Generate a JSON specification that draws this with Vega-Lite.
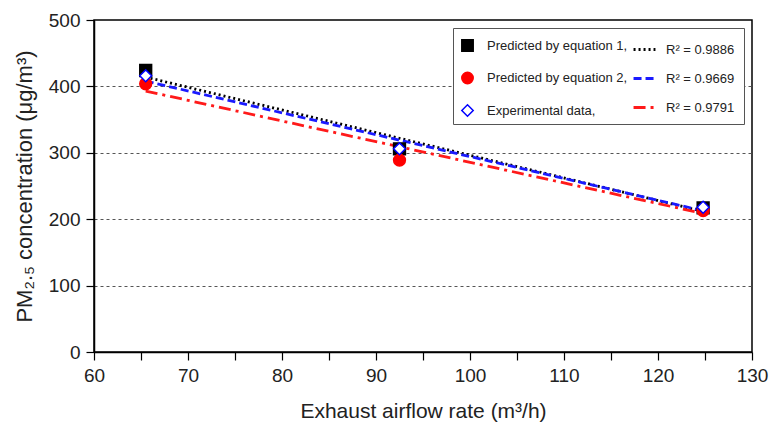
{
  "$schema": "https://vega.github.io/schema/vega-lite/v6.json",
  "width": 658,
  "height": 332,
  "autosize": "none",
  "padding": {"left": 94, "top": 20, "right": 17, "bottom": 71},
  "background": "white",
  "config": {
    "font": "Liberation Sans",
    "view": {"stroke": "black", "strokeWidth": 1.5},
    "axis": {
      "domainColor": "black",
      "domainWidth": 1.5,
      "tickColor": "black",
      "tickSize": 8,
      "tickWidth": 1.2,
      "labelColor": "#222",
      "titleColor": "#222",
      "labelFontSize": 19,
      "titleFontSize": 21,
      "titleFontWeight": "normal",
      "labelOverlap": false
    }
  },
  "datasets": {
    "points": [
      {"airflow": 65.5, "pm": 424, "series": "Predicted by equation 1,"},
      {"airflow": 92.5, "pm": 306, "series": "Predicted by equation 1,"},
      {"airflow": 124.8, "pm": 217, "series": "Predicted by equation 1,"},
      {"airflow": 65.5, "pm": 404, "series": "Predicted by equation 2,"},
      {"airflow": 92.5, "pm": 289, "series": "Predicted by equation 2,"},
      {"airflow": 124.8, "pm": 213, "series": "Predicted by equation 2,"},
      {"airflow": 65.5, "pm": 416, "series": "Experimental data,"},
      {"airflow": 92.5, "pm": 306, "series": "Experimental data,"},
      {"airflow": 124.8, "pm": 218, "series": "Experimental data,"}
    ],
    "fits": [
      {"airflow": 65.5, "pm": 414, "fit": "R² = 0.9886"},
      {"airflow": 125, "pm": 211, "fit": "R² = 0.9886"},
      {"airflow": 65.5, "pm": 408, "fit": "R² = 0.9669"},
      {"airflow": 125, "pm": 212, "fit": "R² = 0.9669"},
      {"airflow": 65.5, "pm": 393, "fit": "R² = 0.9791"},
      {"airflow": 125, "pm": 208, "fit": "R² = 0.9791"}
    ]
  },
  "layer": [
    {
      "data": {"name": "fits"},
      "mark": {"type": "line", "strokeWidth": 2.8},
      "encoding": {
        "x": {
          "field": "airflow", "type": "quantitative",
          "scale": {"domain": [60, 130], "nice": false, "zero": false},
          "axis": {
            "values": [60, 65, 70, 75, 80, 85, 90, 95, 100, 105, 110, 115, 120, 125, 130],
            "labelExpr": "datum.value % 10 === 0 ? datum.label : ''",
            "grid": false,
            "labelPadding": 6,
            "labelFlush": false,
            "title": "Exhaust airflow rate (m³/h)",
            "titlePadding": 15
          }
        },
        "y": {
          "field": "pm", "type": "quantitative",
          "scale": {"domain": [0, 500], "nice": false},
          "axis": {
            "values": [0, 50, 100, 150, 200, 250, 300, 350, 400, 450, 500],
            "labelExpr": "datum.value % 100 === 0 ? datum.label : ''",
            "grid": true,
            "gridColor": "#555",
            "gridDash": [3, 3],
            "gridWidth": 1,
            "gridOpacity": {"condition": {"test": "datum.value % 100 === 0 && datum.value > 0 && datum.value < 500", "value": 1}, "value": 0},
            "labelPadding": 6,
            "title": "PM₂.₅ concentration (μg/m³)",
            "titleFontSize": 22,
            "titlePadding": 12
          }
        },
        "color": {
          "field": "fit", "type": "nominal",
          "scale": {"domain": ["R² = 0.9886", "R² = 0.9669", "R² = 0.9791"], "range": ["black", "#1a1aff", "#ff1a1a"]},
          "legend": {
            "orient": "none",
            "legendX": 359,
            "legendY": 8,
            "title": null,
            "zindex": 0,
            "strokeColor": "#555",
            "fillColor": "white",
            "padding": 9,
            "symbolType": "stroke",
            "symbolSize": 480,
            "symbolStrokeWidth": 3,
            "symbolOffset": 170,
            "labelOffset": 9,
            "labelFontSize": 13,
            "labelColor": "#222",
            "rowPadding": 9
          }
        },
        "strokeDash": {
          "field": "fit", "type": "nominal",
          "scale": {"domain": ["R² = 0.9886", "R² = 0.9669", "R² = 0.9791"], "range": [[2, 3], [8, 4], [12, 5, 3, 5]]}
        }
      }
    },
    {
      "data": {"name": "points"},
      "mark": {"type": "point", "size": 140, "strokeWidth": 1.5, "opacity": 1},
      "encoding": {
        "x": {"field": "airflow", "type": "quantitative"},
        "y": {"field": "pm", "type": "quantitative"},
        "shape": {
          "field": "series", "type": "nominal",
          "scale": {"domain": ["Predicted by equation 1,", "Predicted by equation 2,", "Experimental data,"], "range": ["square", "circle", "diamond"]},
          "legend": {
            "orient": "none",
            "legendX": 367,
            "legendY": 19,
            "title": null,
            "zindex": 1,
            "padding": 0,
            "symbolSize": 130,
            "symbolStrokeWidth": 1.5,
            "labelOffset": 13,
            "labelFontSize": 13,
            "labelColor": "#222",
            "rowPadding": 13.5
          }
        },
        "fill": {
          "field": "series", "type": "nominal",
          "scale": {"domain": ["Predicted by equation 1,", "Predicted by equation 2,", "Experimental data,"], "range": ["black", "#ff0000", "white"]}
        },
        "stroke": {
          "field": "series", "type": "nominal",
          "scale": {"domain": ["Predicted by equation 1,", "Predicted by equation 2,", "Experimental data,"], "range": ["black", "#ff0000", "#0000ff"]}
        }
      }
    }
  ]
}
